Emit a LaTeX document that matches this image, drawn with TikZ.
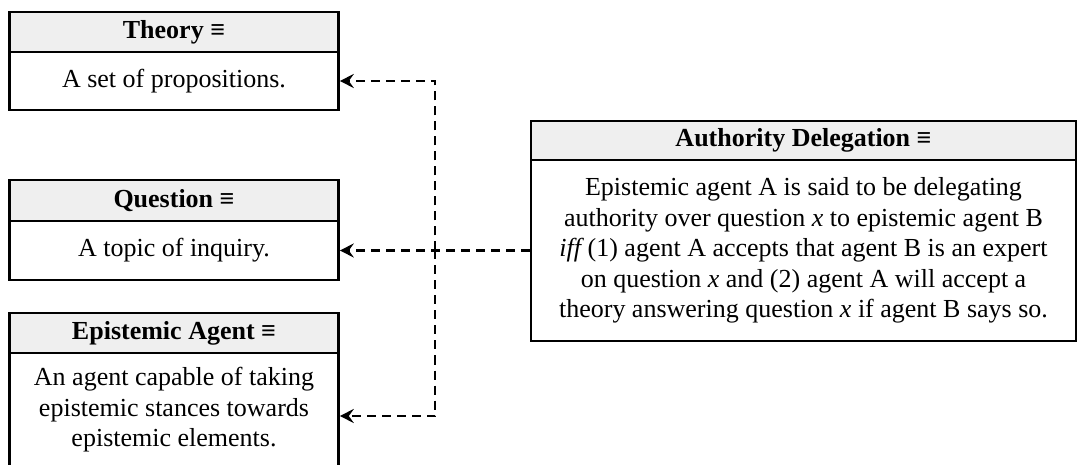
\documentclass[tikz,border=0pt]{standalone}
\usepackage{fontspec}
\setmainfont{Liberation Serif}
\usetikzlibrary{arrows.meta}

\definecolor{hdrgray}{HTML}{EFEFEF}

\tikzset{
  boxline/.style={draw=black, line width=2.6pt},
  hdr/.style={boxline, fill=hdrgray, inner sep=0pt, anchor=center,
    font=\fontsize{26}{30}\selectfont\bfseries},
  bodybox/.style={boxline, fill=white, inner sep=0pt, align=center, anchor=center,
    font=\fontsize{26}{30.5}\selectfont},
  dep/.style={line width=2.6pt, dash pattern=on 9pt off 6pt,
    -{Stealth[length=14pt,width=14pt,inset=5pt]}},
}

\begin{document}
\begin{tikzpicture}[x=1pt,y=-1pt]
\useasboundingbox (0,0) rectangle (1080,465);

% Theory
\node[hdr, minimum width=329, minimum height=40] (thdr) at (174,32) {Theory ≡};
\node[bodybox, minimum width=329, minimum height=58] (tbody) at (174,81) {A set of propositions.};

% Question
\node[hdr, minimum width=329, minimum height=41] (qhdr) at (174,200.5) {Question ≡};
\node[bodybox, minimum width=329, minimum height=59] (qbody) at (174,250.5) {A topic of inquiry.};

% Epistemic Agent
\node[hdr, minimum width=329, minimum height=40] (ahdr) at (174,333) {Epistemic Agent ≡};
\node[bodybox, minimum width=329, minimum height=114] (abody) at (174,410)
  {An agent capable of taking\\epistemic stances towards\\epistemic elements.};

% Authority Delegation
\node[hdr, minimum width=545, minimum height=39] (dhdr) at (803.5,140.5) {Authority Delegation ≡};
\node[bodybox, minimum width=545, minimum height=181] (dbody) at (803.5,250.5)
  {Epistemic agent A is said to be delegating\\
   authority over question \textit{x} to epistemic agent B\\
   {\itshape iff} (1) agent A accepts that agent B is an expert\\
   on question \textit{x} and (2) agent A will accept a\\
   theory answering question \textit{x} if agent B says so.};

% Dependencies: one branch point on the vertical trunk
\coordinate (j) at (435,250.5);
\draw[dep] (dbody.west) -- (qbody.east);
\draw[dep] (j) |- (tbody.east);
\draw[dep] (j) |- ([yshift=-6pt]abody.east);
\end{tikzpicture}
\end{document}
